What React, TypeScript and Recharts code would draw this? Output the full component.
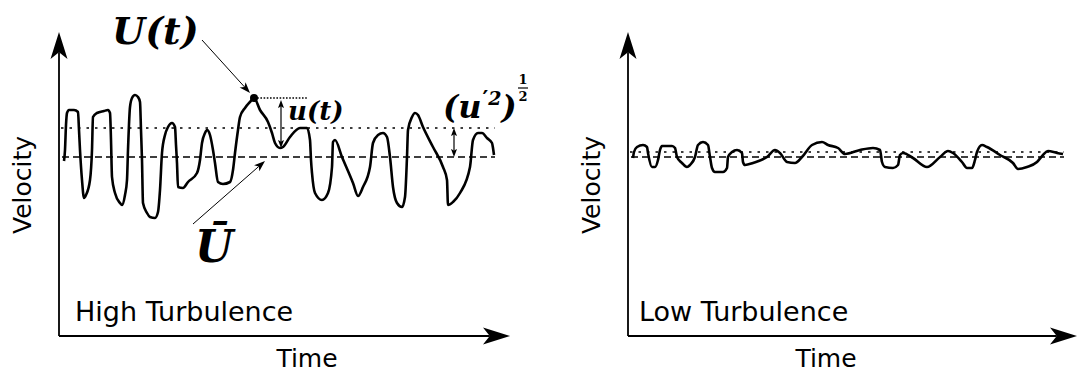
import React from 'react'
import { LineChart, Line, XAxis, YAxis, ReferenceLine, ReferenceDot } from 'recharts'

// High turbulence trace (time, velocity)
const highTime = [
  5, 6, 7, 8, 10, 15, 19, 20, 21, 23, 25, 27, 31, 33, 34, 38, 45, 49, 51, 52, 53, 56, 61, 63, 66, 68, 69, 71, 73, 76,
  79, 81, 82, 83, 84, 88, 91, 96, 99, 101, 103, 106, 109, 113, 116, 117, 118, 119, 124, 129, 138, 141, 143, 146, 148,
  151, 154, 156, 159, 164, 171, 174, 176, 179, 181, 186, 191, 195, 201, 209, 213, 216, 221, 224, 231, 241, 248, 251,
  252, 253, 256, 263, 269, 273, 274, 276, 283, 294, 299, 304, 311, 314, 319, 324, 328, 331, 334, 338, 343, 346, 348,
  349, 353, 356, 359, 364, 374, 384, 388, 389, 394, 401, 411, 414, 419, 423, 428, 433, 434, 435,
]
const highVelocity = [
  175, 186, 211, 223, 226, 226, 224, 206, 186, 156, 138, 141, 156, 186, 219, 223, 225, 226, 223, 196, 159, 143, 133,
  131, 141, 156, 186, 229, 238, 241, 239, 234, 206, 176, 133, 123, 119, 118, 124, 146, 183, 201, 209, 213, 209, 191,
  173, 149, 148, 154, 163, 176, 193, 203, 206, 201, 186, 173, 154, 152, 154, 166, 183, 206, 219, 228, 234, 238, 226,
  214, 203, 193, 188, 189, 199, 208, 208, 196, 176, 163, 143, 136, 143, 169, 194, 196, 179, 153, 140, 149, 169, 193,
  201, 203, 199, 179, 149, 133, 129, 139, 179, 206, 219, 223, 221, 209, 189, 169, 156, 131, 134, 143, 169, 196, 203,
  203, 198, 193, 188, 181,
]

// Low turbulence trace
const lowTime = [
  5, 6, 9, 15, 19, 20, 24, 27, 30, 32, 34, 44, 47, 49, 54, 59, 62, 67, 70, 75, 80, 82, 84, 87, 95, 99, 100, 104, 109,
  114, 115, 117, 125, 139, 147, 152, 159, 167, 174, 184, 194, 200, 210, 217, 232, 245, 252, 254, 257, 265, 270, 272,
  275, 285, 299, 312, 320, 325, 334, 339, 344, 347, 349, 354, 359, 372, 385, 390, 399, 409, 415, 420, 429, 435,
]
const lowVelocity = [
  178, 184, 189, 191, 189, 183, 169, 169, 176, 186, 190, 190, 188, 179, 173, 169, 171, 179, 191, 194, 191, 179, 168,
  164, 164, 168, 179, 184, 186, 183, 174, 171, 173, 179, 186, 183, 174, 173, 179, 191, 194, 191, 188, 182, 186, 188,
  186, 174, 169, 168, 171, 181, 183, 178, 169, 179, 185, 183, 174, 168, 168, 176, 184, 191, 189, 181, 173, 167, 169,
  174, 181, 185, 183, 182,
]

const highMean = 179
const highRms = 208
const lowMean = 179
const lowRms = 184
const traceStart = 4
const traceEnd = 436

const highData = highTime.map((t, i) => ({ t, v: highVelocity[i] }))
const lowData = lowTime.map((t, i) => ({ t, v: lowVelocity[i] }))

const sans = '"DejaVu Sans", sans-serif'
const serif = '"DejaVu Serif", serif'

function arrow(opts: { len: number; half: number; notch: number; width: number; both?: boolean }) {
  return (p: any) => {
    const { x1, y1, x2, y2 } = p
    const dx = x2 - x1
    const dy = y2 - y1
    const l = Math.hypot(dx, dy) || 1
    const ux = dx / l
    const uy = dy / l
    const nx = -uy
    const ny = ux
    const head = (tx: number, ty: number, sx: number, sy: number) => {
      const bx = tx - sx * opts.len
      const by = ty - sy * opts.len
      const pts = [
        [tx, ty],
        [bx + nx * opts.half, by + ny * opts.half],
        [tx - sx * opts.len * (1 - opts.notch), ty - sy * opts.len * (1 - opts.notch)],
        [bx - nx * opts.half, by - ny * opts.half],
      ]
      return <polygon points={pts.map((q) => q.join(',')).join(' ')} fill="#000" />
    }
    const cut = opts.len * (1 - opts.notch)
    const sx = opts.both ? x1 + ux * cut : x1
    const sy = opts.both ? y1 + uy * cut : y1
    return (
      <g>
        <line x1={sx} y1={sy} x2={x2 - ux * cut} y2={y2 - uy * cut} stroke="#000" strokeWidth={opts.width} />
        {head(x2, y2, ux, uy)}
        {opts.both && head(x1, y1, -ux, -uy)}
      </g>
    )
  }
}

const axisArrow = arrow({ len: 27, half: 8.5, notch: 0.25, width: 1.8 })
const thinArrow = arrow({ len: 11, half: 4, notch: 0.25, width: 1 })
const smallDouble = arrow({ len: 8, half: 3, notch: 0.2, width: 1.2, both: true })

function textShape(text: string, style: any, rotate = false) {
  return (p: any) => (
    <text
      x={p.cx}
      y={p.cy}
      transform={rotate ? `rotate(-90 ${p.cx} ${p.cy})` : undefined}
      {...style}
    >
      {text}
    </text>
  )
}

const axisLabel = { fontFamily: sans, fontSize: 25, fill: '#000', textAnchor: 'middle' }
const panelLabel = { fontFamily: sans, fontSize: 27, fill: '#000' }
const math = { fontFamily: serif, fontStyle: 'italic', fontWeight: 'bold', fill: '#000' }

function Panel({
  data,
  mean,
  rms,
  width,
  left,
  right,
  title,
  titleX,
  timeX,
  children,
}: {
  data: { t: number; v: number }[]
  mean: number
  rms: number
  width: number
  left: number
  right: number
  title: string
  titleX: number
  timeX: number
  children?: React.ReactNode
}) {
  const tMax = width - left - right
  const vMax = 304
  return (
    <LineChart width={width} height={376} margin={{ top: 32, left, right, bottom: 40 }}>
      <XAxis dataKey="t" type="number" domain={[0, tMax]} allowDataOverflow hide />
      <YAxis type="number" domain={[0, vMax]} allowDataOverflow hide />
      <ReferenceLine
        segment={[{ x: traceStart - 2, y: rms }, { x: traceEnd, y: rms }]}
        stroke="#000"
        strokeWidth={1.3}
        strokeDasharray="2.5 6"
      />
      <ReferenceLine
        segment={[{ x: traceStart - 1, y: mean }, { x: traceEnd, y: mean }]}
        stroke="#000"
        strokeWidth={1.3}
        strokeDasharray="7 4"
      />
      <Line
        data={data}
        dataKey="v"
        type="monotone"
        dot={false}
        stroke="#000"
        strokeWidth={2.6}
        strokeLinejoin="round"
        isAnimationActive={false}
      />
      <ReferenceLine segment={[{ x: 0, y: 0 }, { x: 0, y: vMax }]} shape={axisArrow} ifOverflow="visible" />
      <ReferenceLine segment={[{ x: 0, y: 0 }, { x: tMax, y: 0 }]} shape={axisArrow} ifOverflow="visible" />
      <ReferenceDot x={timeX} y={-31} r={0} ifOverflow="visible" shape={textShape('Time', axisLabel)} />
      <ReferenceDot x={-28} y={151} r={0} ifOverflow="visible" shape={textShape('Velocity', axisLabel, true)} />
      <ReferenceDot x={titleX} y={15} r={0} ifOverflow="visible" shape={textShape(title, panelLabel)} />
      {children}
    </LineChart>
  )
}

function RmsLabel(p: any) {
  return (
    <g>
      <text x={p.cx} y={p.cy} {...math} fontSize={32}>
        (u
        <tspan dx={1} dy={-12} fontSize={22} fontStyle="normal">
          ′
        </tspan>
        <tspan dy={-1} fontSize={19}>
          2
        </tspan>
        <tspan dy={13}>)</tspan>
      </text>
      <text x={p.cx + 80} y={p.cy - 34} fontFamily={serif} fontWeight="bold" fontSize={13} textAnchor="middle">
        1
      </text>
      <line x1={p.cx + 75} y1={p.cy - 30} x2={p.cx + 85} y2={p.cy - 30} stroke="#000" strokeWidth={1.2} />
      <text x={p.cx + 80} y={p.cy - 17} fontFamily={serif} fontWeight="bold" fontSize={13} textAnchor="middle">
        2
      </text>
    </g>
  )
}

export default function App() {
  return (
    <div style={{ position: 'absolute', left: 0, top: 0, width: 1078, height: 376, background: '#fff' }}>
      <div style={{ position: 'absolute', left: 0, top: 0 }}>
        <Panel
          data={highData}
          mean={highMean}
          rms={highRms}
          width={540}
          left={59}
          right={30}
          title="High Turbulence"
          titleX={16}
          timeX={248}
        >
          <ReferenceLine segment={[{ x: 143, y: 296 }, { x: 191, y: 243 }]} shape={thinArrow} ifOverflow="visible" />
          <ReferenceLine segment={[{ x: 134, y: 112 }, { x: 206, y: 175 }]} shape={thinArrow} ifOverflow="visible" />
          <ReferenceLine
            segment={[{ x: 195, y: 238 }, { x: 249, y: 238 }]}
            stroke="#000"
            strokeWidth={1.6}
            strokeDasharray="1.6 1.6"
          />
          <ReferenceLine segment={[{ x: 222, y: 188 }, { x: 222, y: 236 }]} shape={smallDouble} ifOverflow="visible" />
          <ReferenceLine segment={[{ x: 395, y: highMean }, { x: 395, y: highRms }]} shape={smallDouble} ifOverflow="visible" />
          <ReferenceDot x={195} y={238} r={4} fill="#000" stroke="none" />
          <ReferenceDot x={53} y={292} r={0} ifOverflow="visible" shape={textShape('U(t)', { ...math, fontSize: 38 })} />
          <ReferenceDot x={136} y={74} r={0} ifOverflow="visible" shape={textShape('Ū', { ...math, fontSize: 44 })} />
          <ReferenceDot x={229} y={216} r={0} ifOverflow="visible" shape={textShape('u(t)', { ...math, fontSize: 26 })} />
          <ReferenceDot x={384} y={218} r={0} ifOverflow="visible" shape={RmsLabel} />
        </Panel>
      </div>
      <div style={{ position: 'absolute', left: 540, top: 0 }}>
        <Panel
          data={lowData}
          mean={lowMean}
          rms={lowRms}
          width={538}
          left={88}
          right={1}
          title="Low Turbulence"
          titleX={11}
          timeX={198}
        />
      </div>
    </div>
  )
}
